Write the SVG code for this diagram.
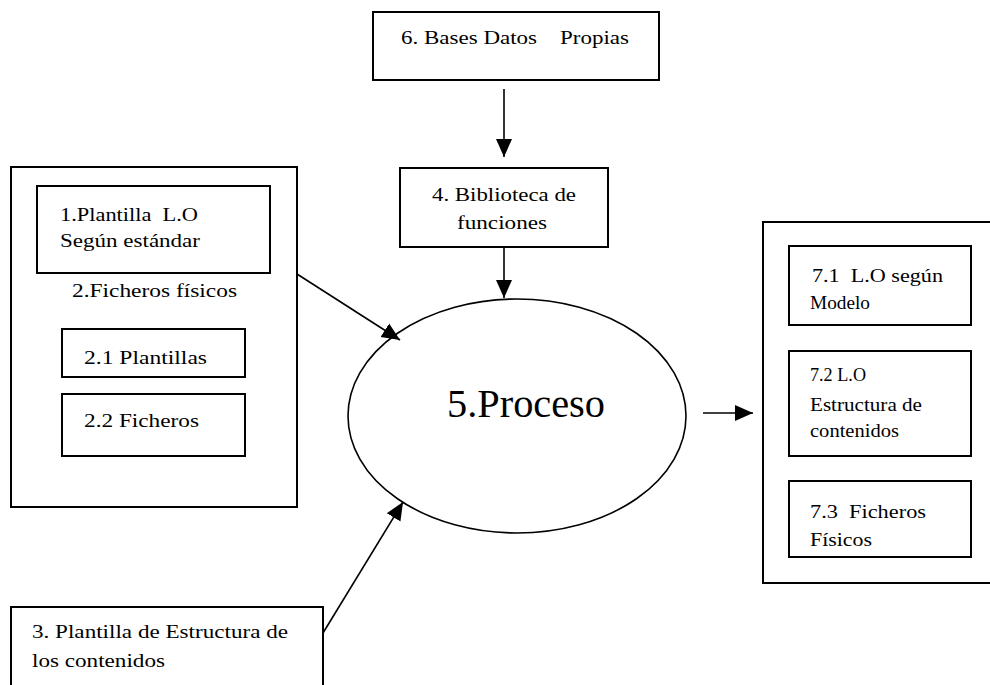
<svg xmlns="http://www.w3.org/2000/svg" width="990" height="685" viewBox="0 0 990 685">
<defs>
<style>
.box{fill:none;stroke:#000;stroke-width:2}
.t{font-family:"Liberation Serif","Times New Roman",serif;font-size:18px;fill:#000;white-space:pre}
.big{font-family:"Liberation Serif","Times New Roman",serif;font-size:40px;fill:#000}
.con{fill:none;stroke:#000;stroke-width:1.6}
</style>
<marker id="ah" markerUnits="userSpaceOnUse" markerWidth="20" markerHeight="20" viewBox="0 0 20 20" refX="18" refY="10" orient="auto">
<path d="M0,2 L18,10 L0,18 Z" fill="#000"/>
</marker>
</defs>
<rect width="990" height="685" fill="#fff"/>

<g id="n6">
<rect class="box" x="373" y="12" width="286" height="68"/>
<text class="t" x="401" y="44" textLength="228" lengthAdjust="spacingAndGlyphs">6. Bases Datos    Propias</text>
</g>

<g id="n4">
<rect class="box" x="400" y="168" width="208" height="79"/>
<text class="t" x="432" y="201" textLength="144" lengthAdjust="spacingAndGlyphs">4. Biblioteca de</text>
<text class="t" x="457" y="229" textLength="90" lengthAdjust="spacingAndGlyphs">funciones</text>
</g>

<g id="n2">
<rect class="box" x="11" y="167" width="286" height="340"/>
<text class="t" x="72" y="297" textLength="165" lengthAdjust="spacingAndGlyphs">2.Ficheros físicos</text>
</g>

<g id="n1">
<rect class="box" x="37" y="186" width="233" height="87"/>
<text class="t" x="60" y="221" textLength="138" lengthAdjust="spacingAndGlyphs">1.Plantilla  L.O</text>
<text class="t" x="60" y="247" textLength="140" lengthAdjust="spacingAndGlyphs">Según estándar</text>
</g>

<g id="n2_1">
<rect class="box" x="62" y="329" width="183" height="48"/>
<text class="t" x="84" y="364" textLength="123" lengthAdjust="spacingAndGlyphs">2.1 Plantillas</text>
</g>

<g id="n2_2">
<rect class="box" x="62" y="394" width="183" height="62"/>
<text class="t" x="84" y="427" textLength="115" lengthAdjust="spacingAndGlyphs">2.2 Ficheros</text>
</g>

<g id="n3">
<rect class="box" x="11" y="607" width="312" height="100"/>
<text class="t" x="32" y="638" textLength="256" lengthAdjust="spacingAndGlyphs">3. Plantilla de Estructura de</text>
<text class="t" x="32" y="667" textLength="133" lengthAdjust="spacingAndGlyphs">los contenidos</text>
</g>

<g id="n5">
<ellipse cx="517" cy="416" rx="169" ry="117" fill="none" stroke="#000" stroke-width="1.6"/>
<text class="big" x="447" y="417" textLength="158" lengthAdjust="spacingAndGlyphs">5.Proceso</text>
</g>

<g id="n7">
<rect class="box" x="763" y="222" width="240" height="361"/>
</g>

<g id="n7_1">
<rect class="box" x="789" y="246" width="182" height="79"/>
<text class="t" x="812" y="282" textLength="131" lengthAdjust="spacingAndGlyphs">7.1  L.O según</text>
<text class="t" x="810" y="309" textLength="60" lengthAdjust="spacingAndGlyphs">Modelo</text>
</g>

<g id="n7_2">
<rect class="box" x="789" y="351" width="182" height="105"/>
<text class="t" x="810" y="381" textLength="56" lengthAdjust="spacingAndGlyphs">7.2 L.O</text>
<text class="t" x="810" y="411" textLength="112" lengthAdjust="spacingAndGlyphs">Estructura de</text>
<text class="t" x="810" y="437" textLength="89" lengthAdjust="spacingAndGlyphs">contenidos</text>
</g>

<g id="n7_3">
<rect class="box" x="789" y="481" width="182" height="76"/>
<text class="t" x="810" y="518" textLength="116" lengthAdjust="spacingAndGlyphs">7.3  Ficheros</text>
<text class="t" x="810" y="546" textLength="62" lengthAdjust="spacingAndGlyphs">Físicos</text>
</g>

<g id="connectors">
<line class="con" x1="504" y1="89" x2="504" y2="157" marker-end="url(#ah)"/>
<line class="con" x1="504" y1="247" x2="504" y2="298" marker-end="url(#ah)"/>
<line class="con" x1="297" y1="274" x2="400" y2="340" marker-end="url(#ah)"/>
<line class="con" x1="323" y1="633" x2="403" y2="502" marker-end="url(#ah)"/>
<line class="con" x1="703" y1="413" x2="753" y2="413" marker-end="url(#ah)"/>
</g>
</svg>
